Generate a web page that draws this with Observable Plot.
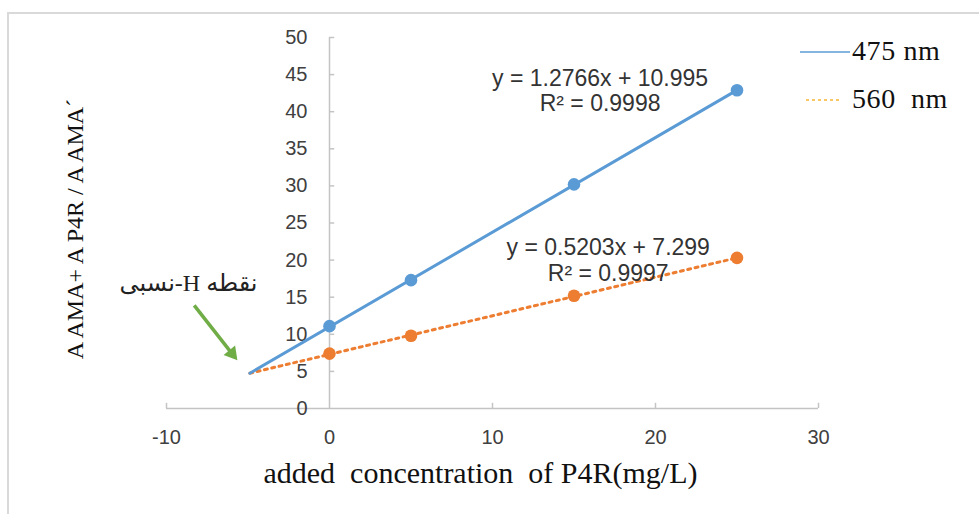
<!DOCTYPE html>
<html>
<head>
<meta charset="utf-8">
<script src="https://cdn.jsdelivr.net/npm/d3@7"></script>
<script src="https://cdn.jsdelivr.net/npm/@observablehq/plot@0.6"></script>
<style>
  html, body { margin: 0; padding: 0; background: #fff; }
  #wrap { position: relative; width: 979px; height: 514px; overflow: hidden; }
  #frame { position: absolute; left: 7px; top: 12px; width: 1000px; height: 600px;
           border-left: 2px solid #d9d9d9; border-top: 2px solid #d9d9d9; pointer-events: none; }
  #chart svg { display: block; }
  #chart svg text { white-space: pre; }
  .legend-item { position: absolute; display: flex; align-items: center;
                 font-family: "Liberation Serif", serif; font-size: 28px; letter-spacing: 0.6px;
                 color: #111; white-space: pre; }
  .legend-item svg { display: block; }
</style>
</head>
<body>
<div id="wrap">
  <div id="chart"></div>
  <div id="frame"></div>
</div>
<script>
// Standard-addition data: absorbance ratio vs added P4R concentration
const concentration = [0, 5, 15, 25];
const abs475 = [11.1, 17.3, 30.2, 42.9];
const abs560 = [7.4, 9.8, 15.2, 20.3];

// Series names and fitted linear trendlines (y = slope·x + intercept)
const seriesNames = ["475 nm", "560  nm"];
const slopes = [1.2766, 0.5203];
const intercepts = [10.995, 7.299];
const rSquared = [0.9998, 0.9997];

// Axis ticks and text
const xTicks = [-10, 0, 10, 20, 30];
const yTicks = [0, 5, 10, 15, 20, 25, 30, 35, 40, 45, 50];
const xTitle = "added  concentration  of P4R(mg/L)";
const yTitle = "A AMA+ A P4R / A AMA´";
const hPointLabel = "نقطه H-نسبی";

const colors = ["#5B9BD5", "#ED7D31"];
const legendColors = ["#5B9BD5", "#F7B733"];
const arrowColor = "#70AD47";
const axisColor = "#c4c4c4";
const tickTextColor = "#404040";

// H-point: where the two trendlines intersect
const hx = (intercepts[1] - intercepts[0]) / (slopes[0] - slopes[1]);
const xEnd = d3.max(concentration);
const trend = (s) => [hx, xEnd].map((x) => ({x, y: slopes[s] * x + intercepts[s]}));

const pts475 = concentration.map((x, i) => ({x, y: abs475[i]}));
const pts560 = concentration.map((x, i) => ({x, y: abs560[i]}));

const equation = (s) => `y = ${slopes[s]}x + ${intercepts[s]}\nR² = ${rSquared[s]}`;

// annotation arrow pointing at the H-point (data units)
const arrowTail = {x: -8.3, y: 13.9};
const arrowHead = {x: -5.98, y: 7.4};

const chart = Plot.plot({
  width: 979,
  height: 514,
  marginLeft: 166,
  marginRight: 161,
  marginTop: 37,
  marginBottom: 106,
  x: {domain: [-10, 30], axis: null},
  y: {domain: [0, 50], axis: null},
  style: {background: "transparent", fontFamily: "Liberation Sans, sans-serif"},
  marks: [
    // axes crossing at the origin
    Plot.ruleY([0], {x1: xTicks[0], x2: xTicks[xTicks.length - 1], stroke: axisColor, strokeWidth: 1.5}),
    Plot.ruleX([0], {y1: yTicks[0], y2: yTicks[yTicks.length - 1], stroke: axisColor, strokeWidth: 1.5}),
    Plot.ruleY(yTicks.slice(1), {y: (d) => d, x1: 0, x2: 0.32, stroke: axisColor, strokeWidth: 1.5}),
    Plot.ruleX(xTicks.filter((d) => d !== 0), {x: (d) => d, y1: 0, y2: 0.7, stroke: axisColor, strokeWidth: 1.5}),
    Plot.text(yTicks, {x: 0, y: (d) => d, text: (d) => String(d), dx: -22, textAnchor: "end",
      fontSize: 20, fill: tickTextColor}),
    Plot.text(xTicks, {x: (d) => d, y: 0, text: (d) => String(d), dy: 29,
      fontSize: 20, fill: tickTextColor}),

    // trendlines back-extrapolated to the H-point
    Plot.line(trend(1), {x: "x", y: "y", stroke: colors[1], strokeWidth: 3, strokeDasharray: "3 4.5"}),
    Plot.line(trend(0), {x: "x", y: "y", stroke: colors[0], strokeWidth: 3}),

    // measured points
    Plot.dot(pts475, {x: "x", y: "y", r: 6.3, fill: colors[0]}),
    Plot.dot(pts560, {x: "x", y: "y", r: 6.3, fill: colors[1]}),

    // trendline equations
    Plot.text([equation(0)], {x: 16.6, y: 42.9, text: (d) => d, fontSize: 23, lineHeight: 1.13,
      fill: "#333"}),
    Plot.text([equation(1)], {x: 17.1, y: 20.0, text: (d) => d, fontSize: 23, lineHeight: 1.13,
      fill: "#333"}),

    // H-point annotation
    Plot.link([{x1: arrowTail.x, y1: arrowTail.y, x2: arrowHead.x, y2: arrowHead.y}],
      {x1: "x1", y1: "y1", x2: "x2", y2: "y2", stroke: arrowColor, strokeWidth: 3.5}),
    Plot.dot([arrowHead], {x: "x", y: "y", symbol: "triangle", r: 5.5, rotate: 141, fill: arrowColor}),
    Plot.text([hPointLabel], {x: -8.65, y: 16.85, text: (d) => d, fontSize: 24,
      fontFamily: "Liberation Serif, DejaVu Serif, DejaVu Sans, serif", fill: "#222"}),

    // axis titles
    Plot.text([xTitle], {frameAnchor: "bottom", text: (d) => d, dx: -12, dy: 65,
      textAnchor: "middle", lineAnchor: "middle",
      fontSize: 30, fontFamily: "Liberation Serif, serif", fill: "#111"}),
    Plot.text([yTitle], {frameAnchor: "left", text: (d) => d, rotate: -90, dx: -91, dy: 6,
      textAnchor: "middle", lineAnchor: "middle",
      fontSize: 24, fontFamily: "Liberation Serif, serif", fill: "#111"})
  ]
});

// right-to-left paragraph direction for the Persian label
d3.select(chart).selectAll("text")
  .filter(function () { return /[\u0600-\u06FF]/.test(this.textContent); })
  .attr("direction", "rtl")
  .style("unicode-bidi", "embed");

document.getElementById("chart").append(chart);

// legend
const wrap = document.getElementById("wrap");
const legendRows = [
  {top: 33, dash: null, width: 50, gap: 2, left: 800},
  {top: 81, dash: "3 3", width: 36, gap: 10, left: 806}
];
seriesNames.forEach((name, i) => {
  const row = legendRows[i];
  const item = document.createElement("div");
  item.className = "legend-item";
  item.style.left = row.left + "px";
  item.style.top = row.top + "px";
  const svg = d3.create("svg").attr("width", row.width).attr("height", 36);
  svg.append("line").attr("x1", 0).attr("x2", row.width).attr("y1", 19).attr("y2", 19)
    .attr("stroke", legendColors[i]).attr("stroke-width", 1.6)
    .attr("stroke-dasharray", row.dash);
  item.append(svg.node());
  const label = document.createElement("span");
  label.style.marginLeft = row.gap + "px";
  label.textContent = name;
  item.append(label);
  wrap.append(item);
});
</script>
</body>
</html>
